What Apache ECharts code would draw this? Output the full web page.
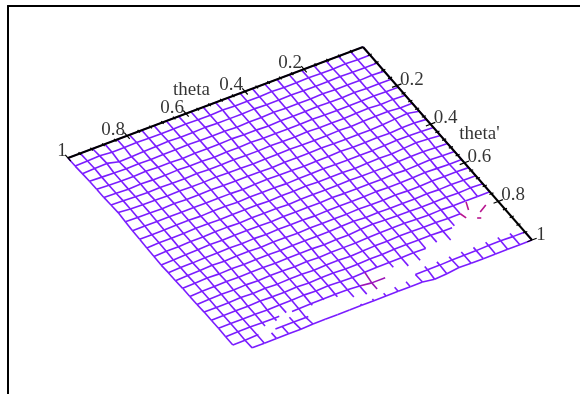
<!DOCTYPE html>
<html>
<head>
<meta charset="utf-8">
<style>
  html, body { margin: 0; background: #fff; }
  #chart { width: 580px; height: 394px; }
</style>
</head>
<body>
<div id="chart"></div>
<script src="https://cdn.jsdelivr.net/npm/echarts@6/dist/echarts.min.js"></script>
<script>
const _ = null
// surface height, one row per theta' step, one column per theta step
const zRows = [
  [0,0,0,0,0,0,0,0,0,0,0,0,0,0,0,0,0,0,0,0,0,0,0,0,0],
  [0,0,.5,0,0,.5,0,0,.5,0,0,0,.5,0,0,.5,0,0,0,.5,0,0,1,.5,0],
  [0,0,0,.5,0,0,0,.5,0,0,.5,0,0,0,.5,0,0,.5,0,-.5,-1,-1.5,1.5,1,.5],
  [0,.5,0,0,0,.5,0,0,0,.5,0,0,-.5,0,0,0,.5,0,0,-.5,0,-.5,0,.5,1],
  [0,0,0,.5,0,0,.5,0,0,0,-.5,0,0,.5,0,0,0,-.5,0,0,.5,0,0,.5,1],
  [0,0,.5,0,0,0,0,.5,0,0,0,0,.5,0,0,-.5,0,0,.5,0,0,.5,0,.5,1],
  [0,.5,0,1,.5,0,0,0,.5,0,0,.5,0,0,.5,0,0,.5,0,0,.5,0,.5,1,1.5],
  [0,0,1,1,.5,0,.5,0,0,0,.5,0,0,-.5,0,0,.5,0,0,.5,0,.5,.5,1,2],
  [0,2.5,1.5,.5,0,0,0,0,.5,0,0,0,-.5,0,0,0,0,.5,0,0,.5,0,.5,.5,1],
  [0,1,1,0,.5,0,0,.5,0,0,-.5,0,0,.5,0,-.5,0,0,0,0,0,0,0,0,0],
  [0,.5,1,1,.5,0,0,0,0,.5,0,0,-.5,0,0,0,-.5,0,0,-.5,0,0,-.5,-.5,-.5],
  [0,1,2,1,0,.5,0,-.5,0,0,0,.5,0,0,-.5,0,0,0,-.5,0,0,-.5,-.5,-.5,-1],
  [0,.5,1,1,.5,0,0,0,.5,0,0,0,0,-.5,0,0,0,-.5,0,0,-.5,-.5,-1,-1,-1.5],
  [0,.5,1,.5,0,.5,0,0,0,0,.5,0,0,0,0,-.5,0,0,0,-.5,0,-.5,-1,-1.5,-2],
  [0,0,.5,1,.5,0,0,.5,0,0,0,0,-.5,0,0,0,-.5,0,-.5,0,-.5,-.5,-1,-1,-1.5],
  [0,.5,.5,.5,0,0,.5,0,0,.5,0,0,0,0,-.5,0,0,-.5,0,0,-.5,0,-.5,-1,-1.5],
  [0,0,.5,0,.5,0,0,0,.5,0,1,.5,0,0,0,0,-.5,0,0,-.5,0,-.5,0,-.5,-1],
  [0,.5,0,.5,0,0,.5,.5,1,1.5,1,0,0,-.5,0,0,0,-.5,0,0,-.5,0,-.5,-.5,-1],
  [0,0,0,0,.5,0,.5,1,1,1,.5,0,0,0,-.5,0,-.5,0,0,-.5,0,-.5,0,-.5,-1],
  [_,_,_,0,0,.5,.5,1,1,.5,.5,0,-.5,0,0,-.5,0,0,-.5,0,-.5,0,-.5,-.5,-.5],
  [_,_,_,_,_,0,.5,.5,.5,.5,0,0,-.5,-.5,0,0,-.5,0,-.5,-.5,0,-.5,-.5,-.5,-.5],
  [_,_,_,_,_,_,_,0,.5,0,0,0,-.5,-1,-.5,0,-.5,0,-.5,-.5,-1,-.5,-.5,-.5,-.5],
  [_,_,_,_,_,_,_,_,_,_,_,_,-3,-1.5,-.5,-.5,-.5,-.5,-1,_,-1,-1,-.5,-.5,-1],
  [0,0,.5,.5,0,0,0,-.5,-.5,-.5,_,_,_,_,_,_,_,_,-1.5,-1.5,_,_,-.5,-1,-1],
  [0,0,0,0,0,0,.5,-1,-2,0,0,0,0,0,0,0,0,0,0,-.5,-.5,-.5,-.5,-.5,_]
]
// pieces of mesh lines running into the clipped holes: [theta step, theta' step] to [theta step, theta' step]
const stubs = [
  [1,23,1,22.6],[2,23,2,22.6],[3,23,3,22.6],[4,23,4,22.6],[5,23,5,22.6],[6,23,6,22.6],[7,23,7,22.6],[8,23,8,22.6],
  [5,20,4.25,20],[4,19,4,19.9],[5,20,5,21.1],[6,20,6,20.85],
  [8,21,8,21.95],[9,21,9,22],[10,21,10,21.6],
  [10,24,10,23.4],[11,24,11,23.5],[12,24,12,23.67],[13,24,13,23.8],[14,24,14,23.85],
  [13,22,13,23],[14,22,14,22.9],[15,22,15,22.3],[16,22,16,22.1],[17,22,17,22.2],
  [18,22,18.55,22],[20,22,19.6,22],[20,22,20,22.3],[19,21,19,21.95],[19,23,19,22.4],
  [18,23,17.8,23],[19,23,20.5,23],[20,24,20,23.05],[21,22,21,22.4],[21,24,21,23.3],[22,23,21.9,23]
]
const lowStubs = [[12,22,10.9,22],[12,22,12,22.75]]
const hotStubs = [[2,18.1,2.29,18.95],[0.96,19.1,1.68,19.55],[2.19,20,1.94,20.15],[3,19,2.86,19.6]]
const tickLabels = ['0.2', '0.4', '0.6', '0.8', '1']
const tickValues = [0.2, 0.4, 0.6, 0.8, 1]
const minorTicks = [0.04, 0.08, 0.12, 0.16, 0.24, 0.28, 0.32, 0.36, 0.44, 0.48, 0.52, 0.56, 0.64, 0.68, 0.72, 0.76, 0.84, 0.88, 0.92, 0.96]

const STEPS = 24
const corner = [363, 47]
const thetaEnd = [68, 158]
const primeEnd = [532, 240]
const farEnd = [240, 352]
const PURPLE = '#7a1cff'
const LOW = '#9c14b8'
const HOT = '#b8148f'
const FONT = '"Liberation Serif", "Times New Roman", serif'

function project (t, p, z) {
  const mix = k => (1 - t) * (1 - p) * corner[k] + t * (1 - p) * thetaEnd[k] + (1 - t) * p * primeEnd[k] + t * p * farEnd[k]
  return [mix(0), mix(1) - (z || 0)]
}

function seg (t0, p0, z0, t1, p1, z1, color, width) {
  return { coords: [project(t0, p0, z0), project(t1, p1, z1)], lineStyle: { color: color, width: width || 1.6 } }
}

let mesh = []
for (let j = 0; j <= STEPS; j++) {
  for (let i = 0; i <= STEPS; i++) {
    const z = zRows[j][i]
    if (z === null) continue
    if (i < STEPS && zRows[j][i + 1] !== null) {
      const zr = zRows[j][i + 1]
      mesh.push(seg(i / STEPS, j / STEPS, z, (i + 1) / STEPS, j / STEPS, zr, Math.min(z, zr) <= -3 ? LOW : PURPLE))
    }
    if (j < STEPS && zRows[j + 1][i] !== null) {
      const zd = zRows[j + 1][i]
      mesh.push(seg(i / STEPS, j / STEPS, z, i / STEPS, (j + 1) / STEPS, zd, Math.min(z, zd) <= -3 ? LOW : PURPLE))
    }
  }
}
function addStubs (list, color) {
  list.forEach(s => {
    const row = zRows[Math.round(s[1])]
    const z = row ? (row[Math.round(s[0])] || 0) : 0
    mesh.push(seg(s[0] / STEPS, s[1] / STEPS, z, s[2] / STEPS, s[3] / STEPS, z, color))
  })
}
addStubs(stubs, PURPLE)
addStubs(lowStubs, LOW)
addStubs(hotStubs, HOT)

// the two boxed axes along the back edges, ticks run in the direction of the other axis
let axisSegs = [seg(0, 0, 0, 1, 0, 0, '#000', 2), seg(0, 0, 0, 0, 1, 0, '#000', 2)]
function addTick (v, half) {
  axisSegs.push(seg(v, -half, 0, v, half, 0, '#000', 1.2))
  axisSegs.push(seg(-half, v, 0, half, v, 0, '#000', 1.2))
}
tickValues.forEach(v => addTick(v, 0.016))
minorTicks.forEach(v => addTick(v, 0.007))

let labels = []
tickValues.forEach((v, k) => {
  labels.push({ name: tickLabels[k], value: project(v, 0), label: { offset: v === 1 ? [-6, -7] : [-14, -6] } })
  labels.push({ name: tickLabels[k], value: project(0, v), label: { offset: v === 1 ? [9, -5] : [15, -6] } })
})
labels.push({ name: 'theta', value: project(0.5, 0), label: { offset: [-24, -12] } })
labels.push({ name: "theta'", value: project(0, 0.5), label: { offset: [32, -9] } })

const chart = echarts.init(document.getElementById('chart'), null, { renderer: 'canvas' })
chart.setOption({
  animation: false,
  backgroundColor: '#fff',
  grid: { left: 8, top: 6, width: 572, height: 388 },
  xAxis: {
    type: 'value',
    position: 'top',
    min: 8,
    max: 580,
    axisLine: { show: true, onZero: false, lineStyle: { color: '#000', width: 2 } },
    axisTick: { show: false },
    axisLabel: { show: false },
    splitLine: { show: false }
  },
  yAxis: {
    type: 'value',
    inverse: true,
    min: 6,
    max: 394,
    axisLine: { show: true, onZero: false, lineStyle: { color: '#000', width: 2 } },
    axisTick: { show: false },
    axisLabel: { show: false },
    splitLine: { show: false }
  },
  series: [
    {
      type: 'lines',
      coordinateSystem: 'cartesian2d',
      silent: true,
      lineStyle: { opacity: 1 },
      data: mesh
    },
    {
      type: 'lines',
      coordinateSystem: 'cartesian2d',
      silent: true,
      z: 3,
      lineStyle: { opacity: 1 },
      data: axisSegs
    },
    {
      type: 'scatter',
      silent: true,
      symbolSize: 0,
      z: 4,
      label: {
        show: true,
        position: 'inside',
        formatter: '{b}',
        color: '#000',
        fontFamily: FONT,
        fontSize: 19
      },
      data: labels
    }
  ]
})
</script>
</body>
</html>
